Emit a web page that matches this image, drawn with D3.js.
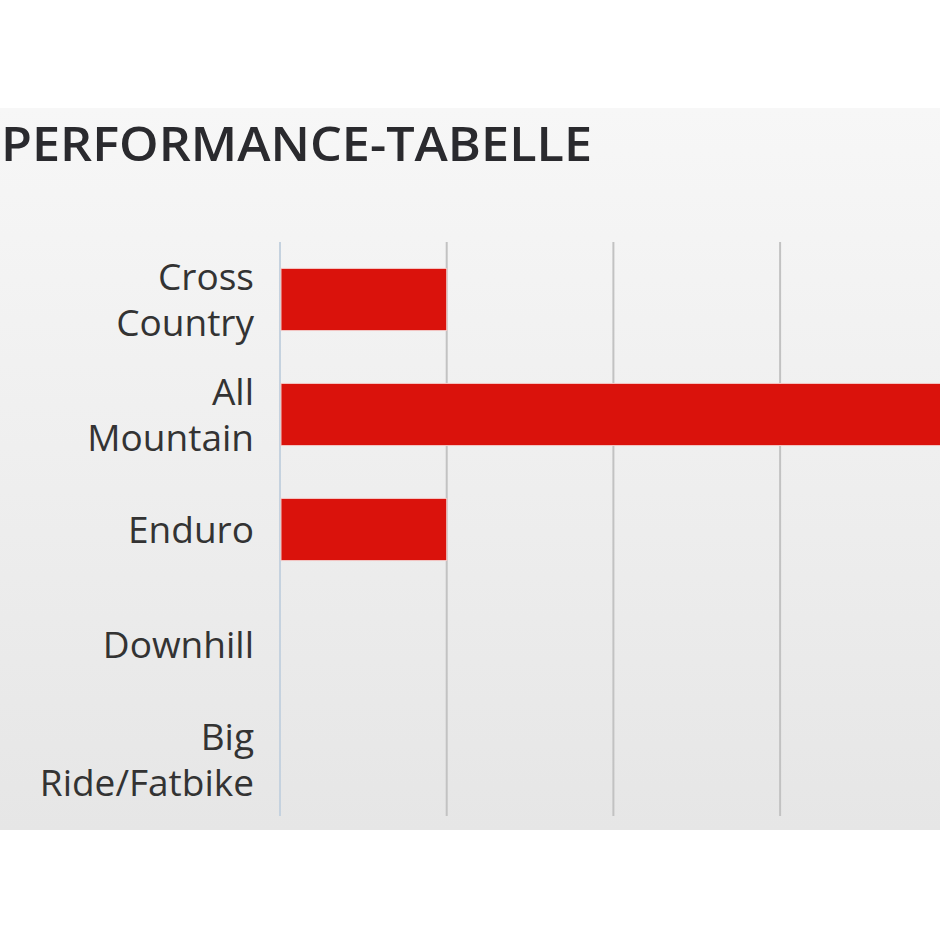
<!DOCTYPE html>
<html><head><meta charset="utf-8">
<script src="https://cdn.jsdelivr.net/npm/d3@7"></script>
<style>html,body{margin:0;padding:0;background:#fff;overflow:hidden}</style>
</head><body>
<svg id="c" width="940" height="940"></svg>
<script>
const title = "PERFORMANCE-TABELLE";
const categories = [["Cross","Country"],["All","Mountain"],["Enduro"],["Downhill"],["Big","Ride/Fatbike"]];
const values = [1, 4, 1, 0, 0];
const tickValues = [1, 2, 3, 4];

const svg = d3.select("#c");
const defs = svg.append("defs");
const g = defs.append("linearGradient").attr("id","bg").attr("x1",0).attr("y1",0).attr("x2",0).attr("y2",1);
g.append("stop").attr("offset","0%").attr("stop-color","#f7f7f7");
g.append("stop").attr("offset","100%").attr("stop-color","#e6e6e6");

svg.append("rect").attr("x",0).attr("y",108).attr("width",940).attr("height",722).attr("fill","url(#bg)");

svg.append("text").attr("x",1).attr("y",161)
  .attr("font-family","Open Sans").attr("font-weight",600).attr("font-size",47)
  .attr("textLength",591).attr("lengthAdjust","spacingAndGlyphs")
  .attr("fill","#2a2a2e").text(title);

const x = d3.scaleLinear().domain([0,5]).range([280, 280 + 5*166.7]);
const y = d3.scaleBand().domain(d3.range(categories.length)).range([242, 817]).paddingInner(0.46).paddingOuter(0.23);

// gridlines
svg.append("g").selectAll("line").data(tickValues).join("line")
  .attr("x1",d=>x(d)).attr("x2",d=>x(d)).attr("y1",242).attr("y2",816)
  .attr("stroke","#c2c2c2").attr("stroke-width",2);
// axis line
svg.append("line").attr("x1",x(0)).attr("x2",x(0)).attr("y1",242).attr("y2",816)
  .attr("stroke","#c5d2df").attr("stroke-width",2);

// bars
svg.append("g").selectAll("rect").data(values).join("rect")
  .attr("x",x(0)+1).attr("y",(d,i)=>y(i))
  .attr("width",d=>Math.max(0,x(d)-x(0)-1)).attr("height",y.bandwidth())
  .attr("fill","#da120c").attr("stroke","#f3c8c6").attr("stroke-width",d=>d>0?1:0);

// labels
const lab = svg.append("g").attr("font-family","Open Sans").attr("font-size",37).attr("fill","#333").attr("text-anchor","end");
categories.forEach((lines,i)=>{
  const cy = y(i) + y.bandwidth()/2;
  const lh = 46;
  const t = lab.append("text").attr("x",254);
  lines.forEach((s,k)=>{
    t.append("tspan").attr("x",254).attr("y", cy + (k - (lines.length-1)/2)*lh + 13).text(s);
  });
});
</script>
</body></html>
